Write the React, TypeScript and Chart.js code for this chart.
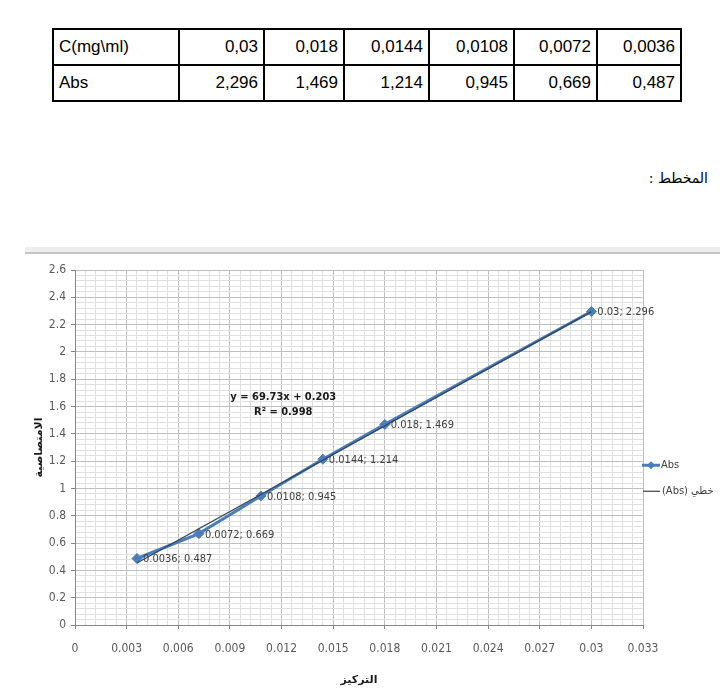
import React, { useEffect, useRef } from "react";
import { Chart, registerables } from "chart.js";

Chart.register(...registerables);

// ---- data ----
const CONC = [0.03, 0.018, 0.0144, 0.0108, 0.0072, 0.0036];
const ABS = [2.296, 1.469, 1.214, 0.945, 0.669, 0.487];
const TABLE_HEAD_C = "C(mg\\ml)";
const TABLE_HEAD_ABS = "Abs";
const TREND_SLOPE = 69.73;
const TREND_INTERCEPT = 0.203;
const EQ_TEXT = "y = 69.73x + 0.203";
const R2_TEXT = "R² = 0.998";
const X_TITLE = "التركيز";
const Y_TITLE = "الامتصاصية";
const SERIES_LABEL = "Abs";
const TREND_LABEL = "خطي (Abs)";
const HEADING = "المخطط :";
const X_RANGE = [0, 0.033];
const X_STEPS = [0.003, 0.0006]; // major, minor
const Y_RANGE = [0, 2.6];
const Y_STEPS = [0.2, 0.04]; // major, minor

const NARROW = "'Liberation Sans Narrow', 'DejaVu Sans Condensed', 'DejaVu Sans', sans-serif";

const isMajor = (v: number, major: number) => Math.abs(v / major - Math.round(v / major)) < 1e-6;
const fmt = (v: number) => String(parseFloat(v.toFixed(5)));

const extrasPlugin = {
  id: "extras",
  afterDatasetsDraw(chart: any) {
    const { ctx, chartArea } = chart;
    const xs = chart.scales.x;
    const ys = chart.scales.y;
    ctx.save();
    // data labels
    ctx.font = `11px ${NARROW}`;
    ctx.fillStyle = "#404040";
    ctx.textBaseline = "middle";
    ctx.textAlign = "left";
    CONC.forEach((c, i) => {
      const px = xs.getPixelForValue(c);
      const py = ys.getPixelForValue(ABS[i]);
      ctx.fillText(`${fmt(c)}; ${fmt(ABS[i])}`, px + 6, py + 1);
    });
    // equation
    ctx.font = `bold 11px ${NARROW}`;
    ctx.fillStyle = "#1a1a1a";
    ctx.textAlign = "center";
    const ex = xs.getPixelForValue(0.0121);
    const ey = ys.getPixelForValue(1.67);
    ctx.fillText(EQ_TEXT, ex, ey);
    ctx.fillText(R2_TEXT, ex, ey + 15);
    // legend
    const lx = chartArea.right;
    const ly1 = ys.getPixelForValue(1.17);
    const ly2 = ly1 + 26;
    ctx.strokeStyle = "#4a7ebb";
    ctx.lineWidth = 3;
    ctx.beginPath();
    ctx.moveTo(lx - 1, ly1);
    ctx.lineTo(lx + 17, ly1);
    ctx.stroke();
    ctx.fillStyle = "#4a7ebb";
    ctx.beginPath();
    ctx.moveTo(lx + 8, ly1 - 4);
    ctx.lineTo(lx + 12, ly1);
    ctx.lineTo(lx + 8, ly1 + 4);
    ctx.lineTo(lx + 4, ly1);
    ctx.closePath();
    ctx.fill();
    ctx.strokeStyle = "#404040";
    ctx.lineWidth = 1.2;
    ctx.beginPath();
    ctx.moveTo(lx, ly2);
    ctx.lineTo(lx + 17, ly2);
    ctx.stroke();
    ctx.font = `11px ${NARROW}`;
    ctx.fillStyle = "#404040";
    ctx.textAlign = "left";
    ctx.fillText(SERIES_LABEL, lx + 18, ly1);
    (ctx as any).direction = "rtl";
    ctx.textAlign = "left";
    ctx.fillText(TREND_LABEL, lx + 19, ly2);
    ctx.restore();
  },
};

function ChartView() {
  const ref = useRef<HTMLCanvasElement>(null);
  useEffect(() => {
    if (!ref.current) return;
    const xMin = Math.min(...CONC);
    const xMax = Math.max(...CONC);
    const chart = new Chart(ref.current, {
      type: "scatter",
      data: {
        datasets: [
          {
            label: SERIES_LABEL,
            data: CONC.map((c, i) => ({ x: c, y: ABS[i] })),
            showLine: true,
            borderColor: "#4a7ebb",
            backgroundColor: "#4a7ebb",
            borderWidth: 3,
            pointStyle: "rectRot",
            pointRadius: 5,
            pointBorderWidth: 1,
            order: 1,
          },
          {
            label: TREND_LABEL,
            data: [
              { x: xMin, y: TREND_SLOPE * xMin + TREND_INTERCEPT },
              { x: xMax, y: TREND_SLOPE * xMax + TREND_INTERCEPT },
            ],
            showLine: true,
            borderColor: "#34475e",
            backgroundColor: "#34475e",
            borderWidth: 1.4,
            pointRadius: 0,
            order: 0,
          },
        ],
      },
      options: {
        responsive: false,
        animation: false,
        layout: { padding: { left: 28, right: 77, top: 15, bottom: 0 } },
        plugins: { legend: { display: false }, tooltip: { enabled: false } },
        scales: {
          x: {
            type: "linear",
            min: X_RANGE[0],
            max: X_RANGE[1],
            afterFit: (s: any) => {
              s.height = 71;
            },
            ticks: {
              stepSize: X_STEPS[1],
              autoSkip: false,
              maxRotation: 0,
              minRotation: 0,
              padding: 13,
              color: "#595959",
              font: { size: 12, family: NARROW },
              callback: (v: any) => (isMajor(Number(v), X_STEPS[0]) ? fmt(Number(v)) : ""),
            },
            grid: {
              color: (c: any) => (isMajor(c.tick?.value ?? 0, X_STEPS[0]) ? "#bfbfbf" : "#e0e0e0"),
              tickLength: 4,
              tickColor: (c: any) => (isMajor(c.tick?.value ?? 0, X_STEPS[0]) ? "#868686" : "rgba(0,0,0,0)"),
            },
            border: { display: true, color: "#868686", width: 1 },
            title: {
              display: true,
              text: X_TITLE,
              color: "#1a1a1a",
              font: { size: 11, weight: "bold", family: "'DejaVu Sans', sans-serif" },
              padding: { top: 0, bottom: 9 },
            },
          },
          y: {
            type: "linear",
            min: Y_RANGE[0],
            max: Y_RANGE[1],
            afterFit: (s: any) => {
              s.width = 47;
            },
            ticks: {
              stepSize: Y_STEPS[1],
              autoSkip: false,
              padding: 5,
              color: "#595959",
              font: { size: 12, family: NARROW },
              callback: (v: any) => (isMajor(Number(v), Y_STEPS[0]) ? fmt(Number(v)) : ""),
            },
            grid: {
              color: (c: any) => (isMajor(c.tick?.value ?? 0, Y_STEPS[0]) ? "#bfbfbf" : "#e0e0e0"),
              tickLength: 4,
              tickColor: (c: any) => (isMajor(c.tick?.value ?? 0, Y_STEPS[0]) ? "#868686" : "rgba(0,0,0,0)"),
            },
            border: { display: true, color: "#868686", width: 1 },
            title: {
              display: true,
              text: Y_TITLE,
              color: "#1a1a1a",
              font: { size: 11, weight: "bold", family: "'DejaVu Sans', sans-serif" },
              padding: { top: 5, bottom: 0 },
            },
          },
        },
      },
      plugins: [extrasPlugin],
    } as any);
    return () => chart.destroy();
  }, []);
  return <canvas ref={ref} width={720} height={441} style={{ position: "absolute", left: 0, top: 255 }} />;
}

const COL_WIDTHS = [126, 85, 80, 85, 85, 83, 84];

export default function App() {
  const cell: React.CSSProperties = {
    border: "2px solid #000",
    height: 34,
    padding: "0 5px",
    fontSize: 17,
    fontFamily: "'Liberation Sans', Arial, sans-serif",
    color: "#000",
    textAlign: "right",
    verticalAlign: "middle",
  };
  const comma = (v: number) => String(v).replace(".", ",");
  return (
    <div style={{ position: "absolute", left: 0, top: 0, width: 720, height: 696, background: "#fff", overflow: "hidden" }}>
      <table
        style={{
          position: "absolute",
          left: 52,
          top: 28,
          width: 628,
          borderCollapse: "collapse",
          tableLayout: "fixed",
        }}
      >
        <colgroup>
          {COL_WIDTHS.map((w, i) => (
            <col key={i} style={{ width: w }} />
          ))}
        </colgroup>
        <tbody>
          <tr>
            <td style={{ ...cell, textAlign: "left" }}>{TABLE_HEAD_C}</td>
            {CONC.map((c, i) => (
              <td key={i} style={cell}>
                {comma(c)}
              </td>
            ))}
          </tr>
          <tr>
            <td style={{ ...cell, textAlign: "left" }}>{TABLE_HEAD_ABS}</td>
            {ABS.map((a, i) => (
              <td key={i} style={cell}>
                {comma(a)}
              </td>
            ))}
          </tr>
        </tbody>
      </table>
      <div
        dir="rtl"
        style={{
          position: "absolute",
          right: 12,
          top: 170,
          fontSize: 14,
          fontFamily: "'DejaVu Sans', sans-serif",
          color: "#000",
        }}
      >
        {HEADING}
      </div>
      <div
        style={{
          position: "absolute",
          left: 25,
          right: 0,
          top: 247,
          height: 5,
          background: "#ededed",
          borderBottom: "2px solid #c4c4c4",
        }}
      />
      <ChartView />
    </div>
  );
}
